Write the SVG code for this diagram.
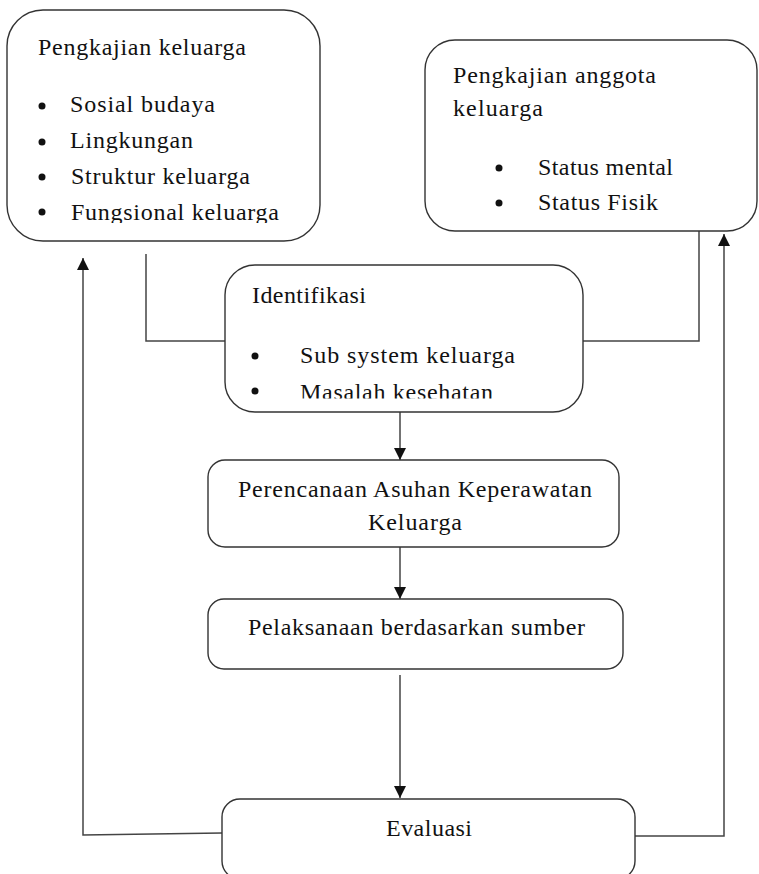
<svg xmlns="http://www.w3.org/2000/svg" width="759" height="874" viewBox="0 0 759 874">
<style>
.box{fill:#fff;stroke:#333;stroke-width:1.4}
.t{font-family:'Liberation Serif','DejaVu Serif',serif;font-size:24px;fill:#111}
.b{fill:#111}
.ln{fill:none;stroke:#444;stroke-width:1.5}
</style>
<defs>
<marker id="ah" markerUnits="userSpaceOnUse" markerWidth="13" markerHeight="13" refX="12" refY="6" orient="auto">
<path d="M0,0 L12,6 L0,12 Z" fill="#111"/>
</marker>
<clipPath id="c1"><rect x="0" y="0" width="330" height="223"/></clipPath>
<clipPath id="c3"><rect x="220" y="260" width="370" height="138.5"/></clipPath>
</defs>
<rect width="759" height="874" fill="#fff"/>

<g id="connectors">
<path class="ln" d="M222,833 L83,835 L83,258" marker-end="url(#ah)"/>
<path class="ln" d="M635,836 L724,836 L724,234" marker-end="url(#ah)"/>
<path class="ln" d="M146,254 L146,341 L225,341"/>
<path class="ln" d="M699,231 L699,341 L583,341"/>
<path class="ln" d="M400,412 L400,460" marker-end="url(#ah)"/>
<path class="ln" d="M400,547 L400,599" marker-end="url(#ah)"/>
<path class="ln" d="M400,675 L400,798" marker-end="url(#ah)"/>
</g>

<g id="pengkajian-keluarga">
<rect class="box" x="7" y="10" width="313" height="231" rx="36"/>
<text class="t" x="38" y="55" textLength="208">Pengkajian keluarga</text>
<g clip-path="url(#c1)">
<circle class="b" cx="42" cy="106" r="3.5"/>
<circle class="b" cx="42" cy="142" r="3.5"/>
<circle class="b" cx="42" cy="177" r="3.5"/>
<circle class="b" cx="42" cy="212" r="3.5"/>
<text class="t" x="70" y="112" textLength="145">Sosial budaya</text>
<text class="t" x="70" y="148" textLength="123">Lingkungan</text>
<text class="t" x="71" y="184" textLength="179">Struktur keluarga</text>
<text class="t" x="71" y="220" textLength="208">Fungsional keluarga</text>
</g>
</g>

<g id="pengkajian-anggota">
<rect class="box" x="425" y="40" width="332" height="191" rx="30"/>
<text class="t" x="453" y="83" textLength="203">Pengkajian anggota</text>
<text class="t" x="453" y="116" textLength="90">keluarga</text>
<circle class="b" cx="499" cy="168" r="3.5"/>
<circle class="b" cx="499" cy="203" r="3.5"/>
<text class="t" x="538" y="175" textLength="135">Status mental</text>
<text class="t" x="538" y="210" textLength="120">Status Fisik</text>
</g>

<g id="identifikasi">
<rect class="box" x="225" y="265" width="358" height="147" rx="30"/>
<text class="t" x="252" y="303" textLength="114">Identifikasi</text>
<g clip-path="url(#c3)">
<circle class="b" cx="255" cy="356" r="3.5"/>
<circle class="b" cx="255" cy="391" r="3.5"/>
<text class="t" x="300" y="363" textLength="215">Sub system keluarga</text>
<text class="t" x="300" y="400" textLength="193">Masalah kesehatan</text>
</g>
</g>

<g id="perencanaan">
<rect class="box" x="208" y="460" width="411" height="87" rx="17"/>
<text class="t" x="238" y="497" textLength="354">Perencanaan Asuhan Keperawatan</text>
<text class="t" x="368" y="530" textLength="94">Keluarga</text>
</g>

<g id="pelaksanaan">
<rect class="box" x="208" y="599" width="415" height="70" rx="16"/>
<text class="t" x="248" y="635" textLength="337">Pelaksanaan berdasarkan sumber</text>
</g>

<g id="evaluasi">
<rect class="box" x="222" y="799" width="413" height="80" rx="18"/>
<text class="t" x="386" y="836" textLength="86">Evaluasi</text>
</g>
</svg>
